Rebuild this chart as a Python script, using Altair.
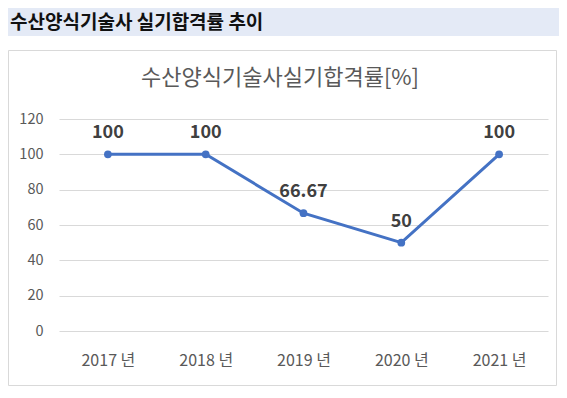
import altair as alt
import pandas as pd

years = ["2017 년", "2018 년", "2019 년", "2020 년", "2021 년"]
rates = [100, 100, 66.67, 50, 100]
rate_labels = ["100", "100", "66.67", "50", "100"]
y_ticks = [0, 20, 40, 60, 80, 100, 120]
header_text = "수산양식기술사 실기합격률 추이"
chart_title = "수산양식기술사실기합격률[%]"

df = pd.DataFrame({"year": years, "rate": rates, "label": rate_labels})

FONT = "Noto Sans CJK KR"
W, H = 489, 212

x_enc = alt.X("year:N", sort=years, title=None,
              scale=alt.Scale(type="point", padding=0.5),
              axis=alt.Axis(labelAngle=0, domain=False, ticks=False, tickSize=0,
                            labelPadding=21, labelFontSize=16, labelColor="#595959",
                            labelFont=FONT, grid=False))
y_enc = alt.Y("rate:Q", title=None,
              scale=alt.Scale(domain=[0, 120], nice=False),
              axis=alt.Axis(values=y_ticks, tickCount=7, labelOverlap=False,
                            domain=False, ticks=False,
                            tickSize=0, labelPadding=16, labelFontSize=14.5,
                            labelColor="#595959", labelFont=FONT,
                            grid=True, gridColor="#d9d9d9", gridWidth=1))

base = alt.Chart(df)
one = "datum.year == '2017 년'"

header_bg = base.mark_rect(color="#e4eaf6").encode(
    x=alt.value(-51), x2=alt.value(500), y=alt.value(-111), y2=alt.value(-83)
).transform_filter(one)

header = base.mark_text(text=header_text, align="left", baseline="middle",
                        font=FONT, fontSize=19, fontWeight="bold", color="#111111").encode(
    x=alt.value(-49), y=alt.value(-96)
).transform_filter(one)

box = base.mark_rect(filled=False, stroke="#d9d9d9", strokeWidth=1).encode(
    x=alt.value(-50.5), x2=alt.value(497.5), y=alt.value(-68.5), y2=alt.value(266.5)
).transform_filter(one)

title = base.mark_text(text=chart_title, align="center", baseline="middle",
                       font=FONT, fontSize=22, color="#595959").encode(
    x=alt.value(221), y=alt.value(-41)
).transform_filter(one)

line = base.mark_line(color="#4472c4", strokeWidth=3).encode(x=x_enc, y=y_enc)
points = base.mark_point(filled=True, color="#4472c4", size=60, opacity=1).encode(
    x=alt.X("year:N", sort=years), y="rate:Q")
labels = base.mark_text(dy=-21, font=FONT, fontSize=18, fontWeight="bold",
                        color="#404040", baseline="middle").encode(
    x=alt.X("year:N", sort=years), y="rate:Q", text="label:N")

chart = alt.layer(header_bg, header, box, title, line, points, labels).properties(
    width=W, height=H,
    autosize=alt.AutoSizeParams(type="none"),
    padding={"left": 51, "top": 111, "right": 11, "bottom": 59},
    background="white",
).configure_view(stroke=None)

chart.save("out.html", embed_options={"renderer": "svg", "actions": False})
